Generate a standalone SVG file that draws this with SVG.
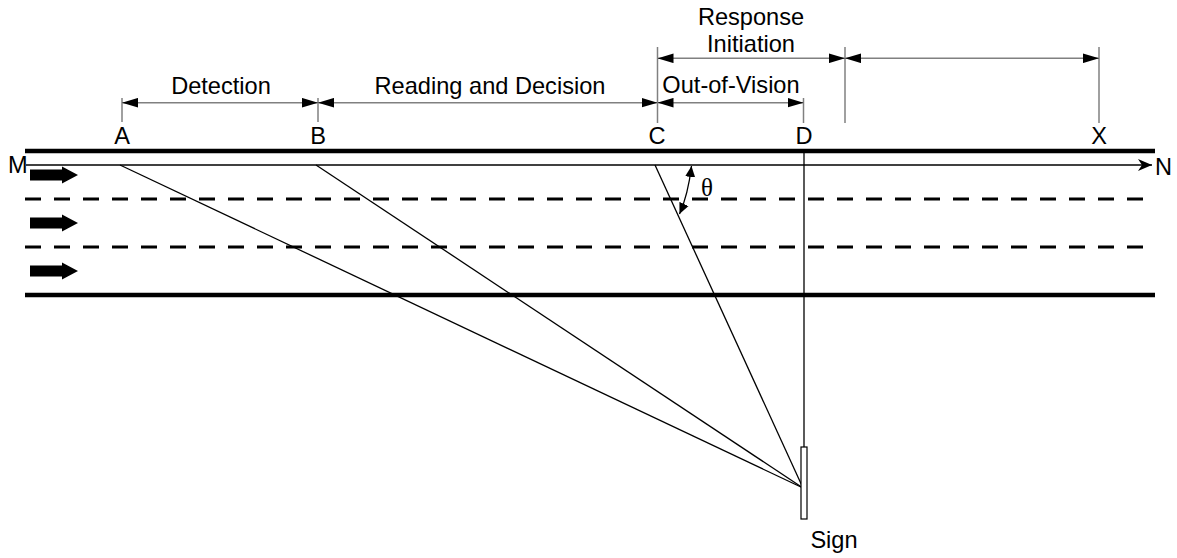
<svg xmlns="http://www.w3.org/2000/svg" width="1177" height="558" viewBox="0 0 1177 558">
<style>
text{font-family:"Liberation Sans",Arial,sans-serif;font-size:23.6px;fill:#000}
.road{stroke:#000;stroke-width:4.4;fill:none}
.dash{stroke:#000;stroke-width:3;stroke-dasharray:16 13;fill:none}
.thin{stroke:#000;stroke-width:1.3;fill:none}
.dim{stroke:#808080;stroke-width:1.5;fill:none;marker-start:url(#da);marker-end:url(#da)}
.tick{stroke:#808080;stroke-width:1.5;fill:none}
</style>
<defs>
<marker id="da" markerUnits="userSpaceOnUse" markerWidth="16" markerHeight="10" refX="15" refY="4.5" orient="auto-start-reverse" viewBox="0 0 15 9"><path d="M0,0 L15,4.5 L0,9 Z" fill="#000"/></marker>
<marker id="ta" markerUnits="userSpaceOnUse" markerWidth="11" markerHeight="11" refX="11" refY="5" orient="auto-start-reverse" viewBox="0 0 11 10"><path d="M0,0 L11,5 L0,10 Z" fill="#000"/></marker>
<marker id="na" markerUnits="userSpaceOnUse" markerWidth="15" markerHeight="13" refX="14" refY="6" orient="auto" viewBox="0 0 15 12"><path d="M0,0 L14,6 L0,12 L4,6 Z" fill="#000"/></marker>
<path id="blk" d="M30,-5.5 L62,-5.5 L62,-8.5 L78,0 L62,8.5 L62,5.5 L30,5.5 Z" fill="#000"/>
</defs>
<g id="road">
<line class="road" x1="25" y1="151" x2="1155" y2="151"/>
<line class="road" x1="25" y1="295" x2="1155" y2="295"/>
<line class="dash" x1="25" y1="199" x2="1155" y2="199"/>
<line class="dash" x1="25" y1="247" x2="1155" y2="247"/>
<use href="#blk" y="175"/>
<use href="#blk" y="223"/>
<use href="#blk" y="271"/>
</g>
<g id="connectors">
<line class="thin" x1="26" y1="165" x2="1152" y2="165" marker-end="url(#na)"/>
<line class="thin" x1="120" y1="165" x2="803" y2="488"/>
<line class="thin" x1="316" y1="165" x2="803" y2="488"/>
<line class="thin" x1="655" y1="165" x2="803" y2="488"/>
<line class="thin" x1="804" y1="151" x2="804" y2="447"/>
<path class="thin" d="M691.5,166 Q688,195 679.5,214" marker-start="url(#ta)" marker-end="url(#ta)"/>
<line class="tick" x1="122" y1="98" x2="122" y2="122"/>
<line class="tick" x1="318" y1="98" x2="318" y2="122"/>
<line class="tick" x1="657.5" y1="47" x2="657.5" y2="123"/>
<line class="tick" x1="803.5" y1="98" x2="803.5" y2="123"/>
<line class="tick" x1="845" y1="47" x2="845" y2="123"/>
<line class="tick" x1="1099" y1="47" x2="1099" y2="123"/>
<line class="dim" x1="122" y1="102.7" x2="318" y2="102.7"/>
<line class="dim" x1="318" y1="102.7" x2="657.5" y2="102.7"/>
<line class="dim" x1="657.5" y1="102.7" x2="803.5" y2="102.7"/>
<line class="dim" x1="657.5" y1="58.3" x2="845" y2="58.3"/>
<line class="dim" x1="845" y1="58.3" x2="1099" y2="58.3"/>
</g>
<g id="sign">
<rect x="801" y="447" width="6" height="72" fill="#fff" stroke="#000" stroke-width="1.2"/>
<text x="834" y="548" text-anchor="middle">Sign</text>
</g>
<g id="labels">
<text x="8" y="173">M</text>
<text x="1155" y="175">N</text>
<text x="122" y="144" text-anchor="middle">A</text>
<text x="318" y="144" text-anchor="middle">B</text>
<text x="657" y="144" text-anchor="middle">C</text>
<text x="804" y="144" text-anchor="middle">D</text>
<text x="1099" y="144" text-anchor="middle">X</text>
<text x="221" y="94" text-anchor="middle">Detection</text>
<text x="490" y="94" text-anchor="middle">Reading and Decision</text>
<text x="731" y="93" text-anchor="middle">Out-of-Vision</text>
<text x="751" y="25" text-anchor="middle">Response</text>
<text x="751" y="51.5" text-anchor="middle">Initiation</text>
<text x="701" y="196" style="font-family:'Liberation Serif','Times New Roman',serif;font-size:25px">θ</text>
</g>
</svg>
